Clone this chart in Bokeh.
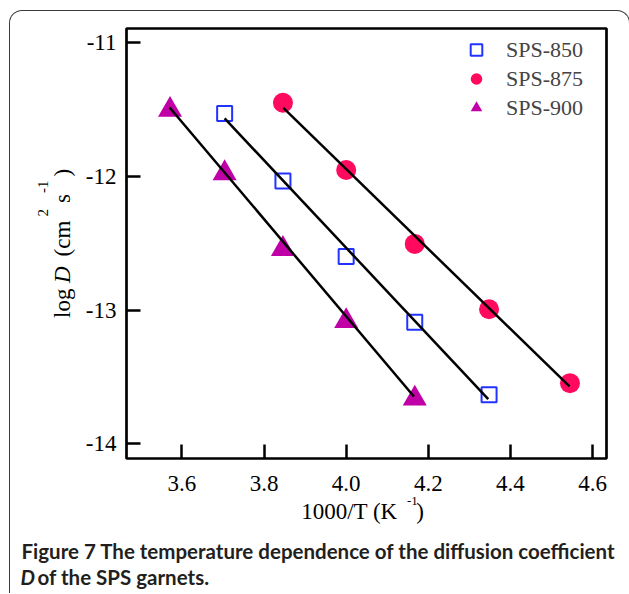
from bokeh.plotting import figure
from bokeh.layouts import column
from bokeh.models import (Range1d, Legend, LegendItem, Div,
                          CustomJSTickFormatter, FixedTicker)
from bokeh.embed import file_html
from bokeh.resources import INLINE

# ---------------- data ----------------
series_names = ["SPS-850", "SPS-875", "SPS-900"]

x_850 = [3.704, 3.846, 4.000, 4.167, 4.348]
y_850 = [-11.528, -12.034, -12.599, -13.090, -13.633]

x_875 = [3.846, 4.000, 4.167, 4.348, 4.545]
y_875 = [-11.448, -11.951, -12.504, -12.993, -13.546]

x_900 = [3.571, 3.704, 3.846, 4.000, 4.167]
y_900 = [-11.500, -11.975, -12.542, -13.082, -13.661]

# fitted straight lines (end points as drawn)
fit_850_x = [3.704, 4.346]
fit_850_y = [-11.565, -13.665]
fit_875_x = [3.847, 4.544]
fit_875_y = [-11.486, -13.571]
fit_900_x = [3.570, 4.165]
fit_900_y = [-11.483, -13.646]

x_ticks = [3.6, 3.8, 4.0, 4.2, 4.4, 4.6]
x_tick_labels = ["3.6", "3.8", "4.0", "4.2", "4.4", "4.6"]
y_ticks = [-11, -12, -13, -14]
y_tick_labels = ["-11", "-12", "-13", "-14"]

caption_line1 = "Figure 7 The temperature dependence of the diffusion coefficient"
caption_line2_a = "D"
caption_line2_b = "of the SPS garnets."

# ---------------- layout ----------------
W, H = 619, 582
ML, MR, MT, MB = 116, 23, 17, 135
X0, X1 = 3.465, 4.634
Y0, Y1 = -14.11, -10.892
SERIF = "Liberation Serif"
OX, OY = 10.5, 11.5   # page position of the layout's content origin

p = figure(width=W, height=H, x_range=Range1d(X0, X1), y_range=Range1d(Y0, Y1),
           output_backend="svg", toolbar_location=None,
           min_border_left=ML, min_border_right=MR,
           min_border_top=MT, min_border_bottom=MB)
p.border_fill_alpha = 0
p.background_fill_color = "white"
p.outline_line_color = "black"
p.outline_line_width = 2.7
p.grid.visible = False

FMT_CODE = """
const i = tvals.findIndex(t => Math.abs(t - tick) < 1e-6);
return i >= 0 ? tlabels[i] : "";
"""
xfmt = CustomJSTickFormatter(args=dict(tvals=x_ticks, tlabels=x_tick_labels), code=FMT_CODE)
yfmt = CustomJSTickFormatter(args=dict(tvals=y_ticks, tlabels=y_tick_labels), code=FMT_CODE)
p.xaxis.ticker = FixedTicker(ticks=x_ticks)
p.yaxis.ticker = FixedTicker(ticks=y_ticks)
p.xaxis.formatter = xfmt
p.yaxis.formatter = yfmt
for ax in (p.xaxis, p.yaxis):
    ax.axis_line_color = None
    ax.major_tick_in = 14
    ax.major_tick_out = 0
    ax.major_tick_line_width = 2.5
    ax.major_tick_line_color = "black"
    ax.minor_tick_line_color = None
    ax.major_label_text_font = SERIF
    ax.major_label_text_font_size = "23px"
    ax.major_label_text_color = "black"
p.xaxis.major_label_standoff = 17
p.yaxis.major_label_standoff = 10

# ---------------- marks ----------------
r850 = p.scatter(x_850, y_850, marker="square", size=15, fill_color=None,
                 line_color="#2233FF", line_width=2)
r875 = p.scatter(x_875, y_875, marker="circle", size=20, fill_color="#FF0A5F",
                 line_color=None)
r900 = p.scatter(x_900, y_900, marker="triangle", size=24, fill_color="#C000A6",
                 line_color=None)
for fxs, fys in ((fit_850_x, fit_850_y), (fit_875_x, fit_875_y), (fit_900_x, fit_900_y)):
    p.line(fxs, fys, line_color="black", line_width=2.5)

legend = Legend(items=[LegendItem(label=n, renderers=[r])
                       for n, r in zip(series_names, (r850, r875, r900))],
                location=(332, 336), orientation="vertical",
                glyph_width=36, glyph_height=29, spacing=0, padding=0,
                label_standoff=12, label_text_font=SERIF,
                label_text_font_size="22px", border_line_color=None,
                background_fill_alpha=0, margin=0)
p.add_layout(legend)


# ---------------- rich texts (HTML, positioned over the canvas) ----------------
def span(text, x, baseline, fs, font, raise_=0, style=""):
    top = baseline - raise_ - 0.8375 * fs
    return (f'<span style="position:absolute; left:{x:.1f}px; top:{top:.1f}px; '
            f'font-family:\'{font}\'; font-size:{fs}px; line-height:{fs}px; '
            f'white-space:nowrap; {style}">{text}</span>')


def text_box(pieces, left, top, w, h, rotate=False, color="black"):
    inner = "".join(pieces)
    html = (f'<div style="position:relative; width:{w}px; height:{h}px; color:{color};">'
            f'{inner}</div>')
    st = {"position": "absolute", "left": f"{left - OX:.1f}px", "top": f"{top - OY:.1f}px"}
    if rotate:
        st.update({"transform": "rotate(-90deg)", "transform-origin": "0 0"})
    return Div(text=html, width=w, height=h, margin=0, styles=st)


# y axis title: log D (cm^2 s^-1), reading upward; baseline at page x = 70.5
YB = 30          # baseline inside the (unrotated) box
Y_START = 318.3  # page y where the title starts
L = 70.5 - YB
ytitle = text_box([
    span("log", Y_START - 318.3, YB, 23, SERIF),
    span("D", Y_START - 283.3, YB, 23, SERIF, style="font-style:italic;"),
    span("(cm", Y_START - 256.7, YB, 23, SERIF),
    span("2", Y_START - 216.7, YB, 15, SERIF, raise_=21),
    span("s", Y_START - 203.3, YB, 23, SERIF),
    span("-1", Y_START - 193.3, YB, 15, SERIF, raise_=21),
    span(")", Y_START - 176.7, YB, 23, SERIF),
], L, Y_START, 170, 40, rotate=True)

# x axis title: 1000/T (K^-1); baseline at page y = 519.5
XL, XT = 280, 490
XB = 519.5
xtitle = text_box([
    span("1000/T (K", 301.7 - XL, XB - XT, 23, SERIF),
    span("-1", 407.5 - XL, XB - XT, 13, SERIF, raise_=14),
    span(")", 416.7 - XL, XB - XT, 23, SERIF),
], XL, XT, 180, 40)

# caption
CL, CT = 14, 536
CAP = "#231F20"
caption = text_box([
    span(caption_line1, 22 - CL, 558.3 - CT, 20.5, "Lato", style="font-weight:bold;"),
    span(caption_line2_a, 21 - CL, 585 - CT, 20.5, "Lato",
         style="font-weight:bold; font-style:italic;"),
    span(caption_line2_b, 38 - CL, 585 - CT, 20.5, "Lato", style="font-weight:bold;"),
], CL, CT, 612, 56, color=CAP)

layout = column(p, ytitle, xtitle, caption, spacing=0)
layout.styles = {"position": "relative", "margin-left": "9px", "margin-top": "10px",
                 "border-top": "1.5px solid #3a3a3a",
                 "border-left": "1.5px solid #3a3a3a",
                 "border-right": "1.5px solid #3a3a3a",
                 "border-radius": "13px 13px 0 0"}

open("out.html", "w").write(file_html(layout, INLINE))
